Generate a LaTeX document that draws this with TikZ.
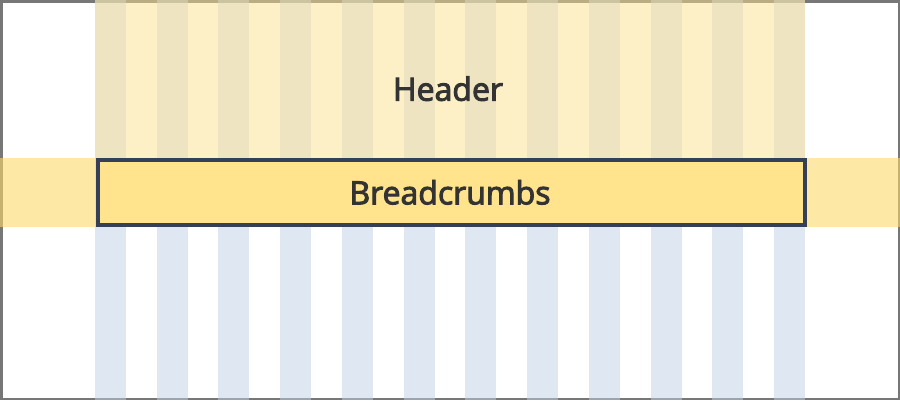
\documentclass[tikz,border=0pt]{standalone}
\usepackage{fontspec}
\newfontfamily\osb{Open Sans}[FakeBold=3]
\definecolor{framegray}{HTML}{777777}
\definecolor{colblue}{HTML}{C1D1E9}
\definecolor{hdryellow}{HTML}{FDE391}
\definecolor{bandyellow}{HTML}{FCD969}
\definecolor{boxfill}{HTML}{FFE38D}
\definecolor{boxline}{HTML}{344058}
\definecolor{txtgray}{HTML}{333333}
\tikzset{
  gridcol/.style={fill=colblue, fill opacity=0.5, draw=none},
  hdrarea/.style={fill=hdryellow, fill opacity=0.5, draw=none},
  bandarea/.style={fill=bandyellow, fill opacity=0.6, draw=none},
  crumbbox/.style={fill=boxfill, draw=boxline, line width=4pt},
  label/.style={font=\osb\fontsize{32}{38}\selectfont, text=txtgray, anchor=base, inner sep=0pt}
}
\begin{document}
\begin{tikzpicture}[x=1pt,y=-1pt]
  \useasboundingbox (0,0) rectangle (900,400);
  \fill[white] (0,0) rectangle (900,400);
  \draw[framegray, line width=2.5pt] (1.25,1.25) rectangle (898.75,398.75);
  \foreach \i in {0,...,11} {
    \path[gridcol] ({95+\i*61.727},0) rectangle ({126+\i*61.727},400);
  }
  \path[hdrarea] (95,0) rectangle (805,158);
  \path[bandarea] (0,158) rectangle (900,226.5);
  \draw[crumbbox] (98,160) rectangle (805,225);
  \node[label] (header) at (448,100.7) {Header};
  \node[label] (crumbs) at (450,204.3) {Breadcrumbs};
\end{tikzpicture}
\end{document}
